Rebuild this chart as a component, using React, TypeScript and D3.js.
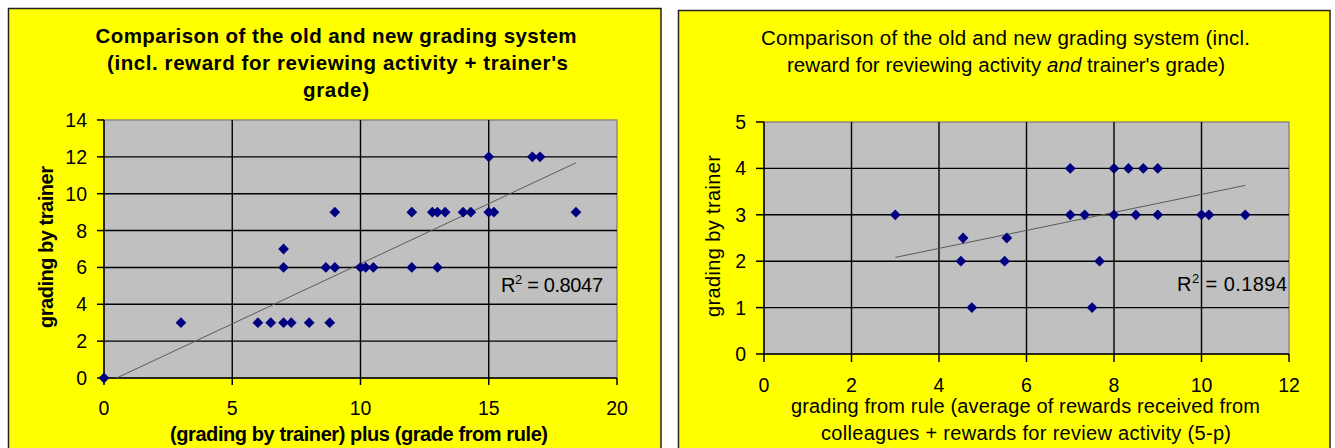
import React from "react";
import * as d3 from "d3";

// ---- data: left chart ----
const leftX = [0, 3, 6, 6.5, 7, 7.3, 8, 8.8, 7, 7, 8.65, 9, 10, 10.2, 10.5, 12, 13, 9, 12, 12.8, 13, 13.3, 14, 14.3, 15, 15.2, 18.4, 15, 16.7, 17];
const leftY = [0, 3, 3, 3, 3, 3, 3, 3, 7, 6, 6, 6, 6, 6, 6, 6, 6, 9, 9, 9, 9, 9, 9, 9, 9, 9, 9, 12, 12, 12];
const leftXTicks = [0, 5, 10, 15, 20];
const leftYTicks = [0, 2, 4, 6, 8, 10, 12, 14];
const leftTrend = [0.652, -0.32]; // slope, intercept
const leftR2 = "0.8047";

// ---- data: right chart ----
const rightX = [3, 4.5, 4.55, 4.75, 5.5, 5.55, 7, 7, 7.33, 7.67, 7.5, 8, 8, 8.33, 8.67, 9, 8.5, 9, 10, 10.17, 11];
const rightY = [3, 2, 2.5, 1, 2, 2.5, 4, 3, 3, 2, 1, 4, 3, 4, 4, 4, 3, 3, 3, 3, 3];
const rightXTicks = [0, 2, 4, 6, 8, 10, 12];
const rightYTicks = [0, 1, 2, 3, 4, 5];
const rightTrend = [0.194, 1.5];
const rightR2 = "0.1894";

const FONT = "'Liberation Sans', Arial, sans-serif";
const diamond = d3.symbol().type(d3.symbolSquare).size(58)();

function Panel(props: any) {
  const { id, xs, ys, xTicks, yTicks, xDom, yDom, plot, trend, r2, r2Pos, r2Len, tickLen, yLabelX, xLabelY } = props;
  const x = d3.scaleLinear().domain(xDom).range([plot.x0, plot.x1]);
  const y = d3.scaleLinear().domain(yDom).range([plot.y1, plot.y0]);
  const tx0 = d3.min(xs) as number;
  const tx1 = d3.max(xs) as number;
  const line = d3.line<number>().x((v) => x(v)).y((v) => y(trend[0] * v + trend[1]));
  return (
    <g>
      <defs>
        <clipPath id={id}>
          <rect x={plot.x0} y={plot.y0} width={plot.x1 - plot.x0} height={plot.y1 - plot.y0} />
        </clipPath>
      </defs>
      <rect x={plot.x0} y={plot.y0} width={plot.x1 - plot.x0} height={plot.y1 - plot.y0} fill="#C0C0C0" stroke="#808080" strokeWidth={1.3} />
      {xTicks.slice(1, -1).map((t: number) => (
        <line key={"gx" + t} x1={x(t)} x2={x(t)} y1={plot.y0} y2={plot.y1} stroke="#000" strokeWidth={1.4} />
      ))}
      {yTicks.slice(1, -1).map((t: number) => (
        <line key={"gy" + t} x1={plot.x0} x2={plot.x1} y1={y(t)} y2={y(t)} stroke="#000" strokeWidth={1.4} />
      ))}
      <line x1={plot.x0} x2={plot.x0} y1={plot.y0} y2={plot.y1} stroke="#000" strokeWidth={1.5} />
      <line x1={plot.x0} x2={plot.x1} y1={plot.y1} y2={plot.y1} stroke="#000" strokeWidth={1.5} />
      {yTicks.map((t: number) => (
        <g key={"ty" + t}>
          <line x1={plot.x0 - tickLen} x2={plot.x0} y1={y(t)} y2={y(t)} stroke="#000" strokeWidth={1.5} />
          <text x={yLabelX} y={y(t)} dy="0.36em" textAnchor="end" fontSize={19.5} fontFamily={FONT} fill="#000">{t}</text>
        </g>
      ))}
      {xTicks.map((t: number) => (
        <g key={"tx" + t}>
          <line x1={x(t)} x2={x(t)} y1={plot.y1} y2={plot.y1 + tickLen} stroke="#000" strokeWidth={1.5} />
          <text x={x(t)} y={xLabelY} textAnchor="middle" fontSize={19.5} fontFamily={FONT} fill="#000">{t}</text>
        </g>
      ))}
      <path d={line([tx0, tx1]) || ""} fill="none" stroke="#5a5a5a" strokeWidth={1} clipPath={`url(#${id})`} />
      {xs.map((v: number, i: number) => (
        <path key={"p" + i} d={diamond} transform={`translate(${x(v)},${y(ys[i])}) rotate(45)`} fill="#000080" />
      ))}
      <text x={r2Pos[0]} y={r2Pos[1]} fontSize={20} fontFamily={FONT} fill="#000" textLength={r2Len} lengthAdjust="spacing">
        R<tspan fontSize={13} dy={-8}>2</tspan><tspan dy={8}> = {r2}</tspan>
      </text>
    </g>
  );
}

export default function App() {
  return (
    <svg width={1335} height={448} style={{ position: "absolute", left: 0, top: 0, background: "#fff" }}>
      {/* left chart */}
      <rect x={8.5} y={8.5} width={652.5} height={470} fill="#FFFF00" stroke="#222" strokeWidth={1.5} />
      <g fontFamily={FONT} fontWeight="bold" fontSize={20.5} fill="#000" textAnchor="middle">
        <text x={336} y={43} textLength={481} lengthAdjust="spacing">Comparison of the old and new grading system</text>
        <text x={337.5} y={70} textLength={461} lengthAdjust="spacing">(incl. reward for reviewing activity + trainer's</text>
        <text x={336} y={97} textLength={66} lengthAdjust="spacing">grade)</text>
        <text transform="translate(53,247) rotate(-90)" fontSize={20} textLength={162} lengthAdjust="spacing">grading by trainer</text>
        <text x={359} y={441} fontSize={20} textLength={378} lengthAdjust="spacing">(grading by trainer) plus (grade from rule)</text>
      </g>
      <Panel
        id="clipL"
        xs={leftX}
        ys={leftY}
        xTicks={leftXTicks}
        yTicks={leftYTicks}
        xDom={[0, 20]}
        yDom={[0, 14]}
        plot={{ x0: 104, x1: 617, y0: 120, y1: 378 }}
        trend={leftTrend}
        r2={leftR2}
        r2Pos={[501, 292]}
        r2Len={102}
        tickLen={7}
        yLabelX={87}
        xLabelY={415}
      />

      {/* right chart */}
      <rect x={678.5} y={10.5} width={651.5} height={470} fill="#FFFF00" stroke="#222" strokeWidth={1.5} />
      <g fontFamily={FONT} fontSize={20.5} fill="#000" textAnchor="middle">
        <text x={1005.5} y={45} textLength={489} lengthAdjust="spacing">Comparison of the old and new grading system (incl.</text>
        <text x={1006} y={72} textLength={438} lengthAdjust="spacing">
          reward for reviewing activity <tspan fontStyle="italic">and</tspan> trainer's grade)
        </text>
        <text transform="translate(720,236) rotate(-90)" fontSize={20} textLength={162} lengthAdjust="spacing">grading by trainer</text>
        <text x={1025.5} y={413} fontSize={20} textLength={469} lengthAdjust="spacing">grading from rule (average of rewards received from</text>
        <text x={1026} y={440} fontSize={20} textLength={410} lengthAdjust="spacing">colleagues + rewards for review activity (5-p)</text>
      </g>
      <Panel
        id="clipR"
        xs={rightX}
        ys={rightY}
        xTicks={rightXTicks}
        yTicks={rightYTicks}
        xDom={[0, 12]}
        yDom={[0, 5]}
        plot={{ x0: 764, x1: 1289, y0: 122, y1: 354 }}
        trend={rightTrend}
        r2={rightR2}
        r2Pos={[1177, 291]}
        r2Len={110}
        tickLen={8}
        yLabelX={746}
        xLabelY={391.5}
      />
    </svg>
  );
}
